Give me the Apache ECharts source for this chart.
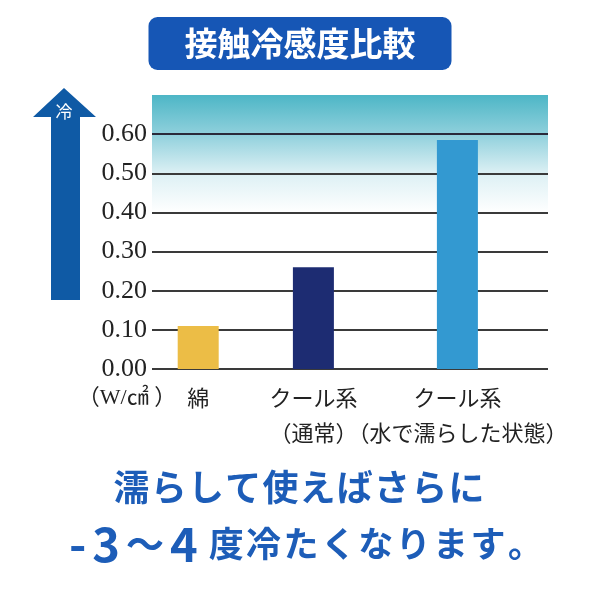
<!DOCTYPE html>
<html>
<head>
<meta charset="utf-8">
<script src="https://cdn.jsdelivr.net/npm/echarts@6/dist/echarts.min.js"></script>
<style>
html,body{margin:0;padding:0;background:#fff;}
#chart{width:600px;height:600px;}
</style>
</head>
<body>
<div id="chart"></div>
<script>
// ---- data ----
var categories = ['綿', 'クール系\n（通常）', 'クール系\n（水で濡らした状態）'];
var values = [0.11, 0.26, 0.585];
var yTicks = ['0.00', '0.10', '0.20', '0.30', '0.40', '0.50', '0.60'];
var unitLabel = '（W/㎠ ）';
var titleText = '接触冷感度比較';
var noteLine1 = '濡らして使えばさらに';
var noteBig = '-3～4';
var noteRest = '度冷たくなります。';
var arrowLabel = '冷';

// ---- layout (not data) ----
var barColors = ['#ecbd46', '#1d2c72', '#3399d1'];
var slotCount = 14;
var slotIndex = [1, 5, 10];

var xData = [];
var sData = [];
for (var i = 0; i < slotCount; i++) { xData.push(''); sData.push(null); }
categories.forEach(function (c, k) {
  xData[slotIndex[k]] = c;
  sData[slotIndex[k]] = { value: values[k], itemStyle: { color: barColors[k] } };
});

function spaced(str, key, special) {
  return str.split('').map(function (ch) {
    var k = (special && special[ch]) ? special[ch] : key;
    return '{' + k + '|' + ch + '}';
  }).join('');
}

var chart = echarts.init(document.getElementById('chart'));
var option = {
  backgroundColor: '#ffffff',
  animation: false,
  title: {
    text: titleText,
    left: 'center',
    top: 17,
    backgroundColor: '#1656b5',
    borderRadius: 9,
    padding: [9, 36, 9, 36],
    textStyle: {
      color: '#ffffff',
      fontSize: 33,
      lineHeight: 35,
      fontWeight: 'bold',
      fontFamily: 'Noto Sans CJK JP'
    }
  },
  grid: [
    {
      left: 152, right: 52, top: 95, bottom: 231,
      show: true, borderWidth: 0,
      backgroundColor: {
        type: 'linear', x: 0, y: 0, x2: 0, y2: 1,
        colorStops: [
          { offset: 0, color: '#4db6c6' },
          { offset: 0.142, color: '#8fd0dc' },
          { offset: 0.285, color: '#dcf0f4' },
          { offset: 0.43, color: '#ffffff' },
          { offset: 1, color: '#ffffff' }
        ]
      }
    },
    { left: 155, right: 600 - 155 - 14 * 28.8, top: 95, bottom: 231 }
  ],
  xAxis: [
    { type: 'value', gridIndex: 0, show: false, min: 0, max: 1 },
    {
      type: 'category', gridIndex: 1, data: xData,
      axisLine: { show: false }, axisTick: { show: false },
      axisLabel: {
        interval: 0, margin: 11, color: '#222',
        fontSize: 22, lineHeight: 35, fontFamily: 'Noto Sans CJK JP'
      }
    }
  ],
  yAxis: [
    {
      type: 'value', gridIndex: 0, min: 0, max: 0.7, interval: 0.1,
      name: unitLabel, nameLocation: 'start', nameGap: 29,
      nameTextStyle: {
        color: '#222', fontSize: 22, fontFamily: 'Liberation Serif, Noto Sans CJK JP',
        align: 'center', verticalAlign: 'middle', padding: [0, 50, 0, 0]
      },
      axisLine: { show: false }, axisTick: { show: false },
      axisLabel: {
        margin: 5, color: '#222', fontSize: 26, fontFamily: 'Liberation Serif',
        formatter: function (v) {
          var idx = Math.round(v * 10);
          return idx < yTicks.length ? yTicks[idx] : '';
        }
      },
      splitLine: {
        show: true,
        lineStyle: {
          width: 2,
          color: ['#3a3a3a', '#3a3a3a', '#3a3a3a', '#3a3a3a', '#3a3a3a', '#3a3a3a', '#2a2a3a', 'rgba(0,0,0,0)']
        }
      }
    },
    { type: 'value', gridIndex: 1, min: 0, max: 0.7, show: false }
  ],
  series: [
    {
      type: 'bar', xAxisIndex: 1, yAxisIndex: 1,
      data: sData, barWidth: 41
    }
  ],
  graphic: [
    {
      type: 'polygon',
      shape: { points: [[64, 88], [96, 117], [80, 117], [80, 300], [51, 300], [51, 117], [33, 117]] },
      style: { fill: '#0f5aa5' }
    },
    {
      type: 'text', x: 64, y: 112,
      style: {
        text: arrowLabel, fill: '#ffffff', fontSize: 17,
        fontFamily: 'Noto Sans CJK JP', align: 'center', verticalAlign: 'middle'
      }
    },
    {
      type: 'text', x: 299, y: 487,
      style: {
        text: spaced(noteLine1, 'c'),
        align: 'center', verticalAlign: 'middle',
        rich: {
          c: { fill: '#1d5db8', fontSize: 36, fontWeight: 'bold', fontFamily: 'Noto Sans CJK JP', padding: [0, 0.6] }
        }
      }
    },
    {
      type: 'text', x: 305, y: 544,
      style: {
        text: spaced(noteBig, 'a', { '～': 'w' }) + '{s| }' + spaced(noteRest, 'b'),
        align: 'center', verticalAlign: 'middle',
        rich: {
          a: { fill: '#1d5db8', fontSize: 47, fontWeight: 'bold', fontFamily: 'Noto Sans CJK JP', padding: [0, 3] },
          w: { fill: '#1d5db8', fontSize: 38, fontWeight: 'bold', fontFamily: 'Noto Sans CJK JP', padding: [0, 3] },
          s: { fontSize: 30, fontFamily: 'Noto Sans CJK JP' },
          b: { fill: '#1d5db8', fontSize: 35, fontWeight: 'bold', fontFamily: 'Noto Sans CJK JP', padding: [0, 1.2] }
        }
      }
    }
  ]
};
chart.setOption(option);
</script>
</body>
</html>
